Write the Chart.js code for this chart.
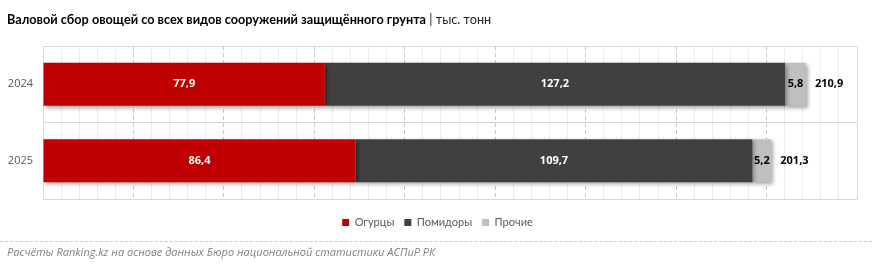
<!DOCTYPE html>
<html><head><meta charset="utf-8">
<script src="https://cdn.jsdelivr.net/npm/chart.js@4/dist/chart.umd.min.js"></script>
<style>
html,body{margin:0;padding:0;background:#fff;}
#wrap{position:relative;width:872px;height:268px;overflow:hidden;}
#title{position:absolute;left:7px;top:11px;font-family:Lato,sans-serif;font-size:12.7px;color:#000;white-space:nowrap;}
#title b{font-weight:700;}
#title span{font-weight:400;color:#222;}
#foot{position:absolute;left:7px;top:244px;font-family:"Open Sans",sans-serif;font-style:italic;font-size:11px;color:#7f7f7f;white-space:nowrap;}
#line{position:absolute;left:0;top:241px;width:872px;border-top:1px dashed #c8c8c8;}
canvas{position:absolute;left:0;top:0;}
</style></head>
<body><div id="wrap">
<canvas id="c" width="872" height="268"></canvas>
<div id="title"><b>Валовой сбор овощей со всех видов сооружений защищённого грунта</b> <span>| тыс. тонн</span></div>
<div id="line"></div>
<div id="foot">Расчёты Ranking.kz на основе данных Бюро национальной статистики АСПиР РК</div>
</div>
<script>
const categories = ["2024", "2025"];
const seriesNames = ["Огурцы", "Помидоры", "Прочие"];
const cucumbers = [77.9, 86.4];
const tomatoes = [127.2, 109.7];
const others = [5.8, 5.2];
const seriesColors = ["#C00000", "#404040", "#BFBFBF"];
const labelColors = ["#ffffff", "#ffffff", "#000000"];

const fmt = v => v.toFixed(1).replace('.', ',');

const shadowPlugin = {
  id: 'shadow',
  beforeDatasetDraw(chart) {
    const ctx = chart.ctx;
    ctx.save();
    ctx.shadowColor = 'rgba(0,0,0,0.35)';
    ctx.shadowBlur = 4;
    ctx.shadowOffsetX = 2;
    ctx.shadowOffsetY = 2;
  },
  afterDatasetDraw(chart) { chart.ctx.restore(); }
};

const legendShift = {
  id: 'legendShift',
  afterLayout(chart) {
    if (chart.legend) { chart.legend.left += 9; chart.legend.right += 9; }
  }
};

const labelPlugin = {
  id: 'labels',
  afterDatasetsDraw(chart) {
    const ctx = chart.ctx;
    ctx.save();
    ctx.font = 'bold 11px "Open Sans", sans-serif';
    ctx.textBaseline = 'middle';
    chart.data.datasets.forEach((ds, di) => {
      const meta = chart.getDatasetMeta(di);
      meta.data.forEach((bar, i) => {
        const cx = (bar.x + bar.base) / 2;
        ctx.fillStyle = labelColors[di];
        ctx.textAlign = 'center';
        ctx.fillText(fmt(ds.data[i]), cx, bar.y);
      });
    });
    const last = chart.getDatasetMeta(chart.data.datasets.length - 1);
    last.data.forEach((bar, i) => {
      const total = cucumbers[i] + tomatoes[i] + others[i];
      ctx.fillStyle = '#000';
      ctx.textAlign = 'left';
      ctx.fillText(fmt(total), bar.x + 9, bar.y);
    });
    ctx.restore();
  }
};

new Chart(document.getElementById('c'), {
  type: 'bar',
  data: {
    labels: categories,
    datasets: [cucumbers, tomatoes, others].map((d, i) => ({
      label: seriesNames[i],
      data: d,
      backgroundColor: seriesColors[i],
      borderColor: seriesColors[i],
      borderWidth: 0,
      barPercentage: 0.56,
      categoryPercentage: 1.0
    }))
  },
  options: {
    indexAxis: 'y',
    responsive: false,
    animation: false,
    layout: { padding: { top: 46, right: 15, left: 0, bottom: 30 } },
    plugins: {
      tooltip: { enabled: false },
      title: { display: false },
      legend: {
        position: 'bottom',
        labels: {
          boxWidth: 7, boxHeight: 7, padding: 10,
          color: '#595959',
          font: { family: 'Lato, sans-serif', size: 11 },
          generateLabels: chart => chart.data.datasets.map((ds, i) => ({
            text: ds.label, fillStyle: seriesColors[i], strokeStyle: seriesColors[i],
            lineWidth: 0, hidden: false, datasetIndex: i, fontColor: '#595959'
          }))
        }
      }
    },
    scales: {
      x: {
        stacked: true, min: 0, max: 225,
        ticks: { display: false, stepSize: 5 },
        grid: {
          drawTicks: false,
          color: ctx => {
            const v = ctx.tick ? ctx.tick.value : 0;
            if (v === 0 || v === 225) return '#d9d9d9';
            return v % 25 === 0 ? '#c8c8c8' : '#ececec';
          }
        },
        border: {
          display: true, color: '#d9d9d9',
          dash: ctx => {
            const v = ctx.tick ? ctx.tick.value : 0;
            return (v > 0 && v < 225 && v % 25 === 0) ? [4, 3] : [];
          }
        },
        afterFit: s => { s.height = 8; }
      },
      y: {
        stacked: true,
        ticks: { color: '#595959', padding: 10, font: { family: '"Open Sans", sans-serif', size: 11 } },
        grid: { color: '#d9d9d9', drawTicks: false, offset: true },
        border: { color: '#d9d9d9' },
        afterFit: s => { s.width = 43; }
      }
    }
  },
  plugins: [shadowPlugin, labelPlugin, legendShift]
});
</script>
</body></html>
